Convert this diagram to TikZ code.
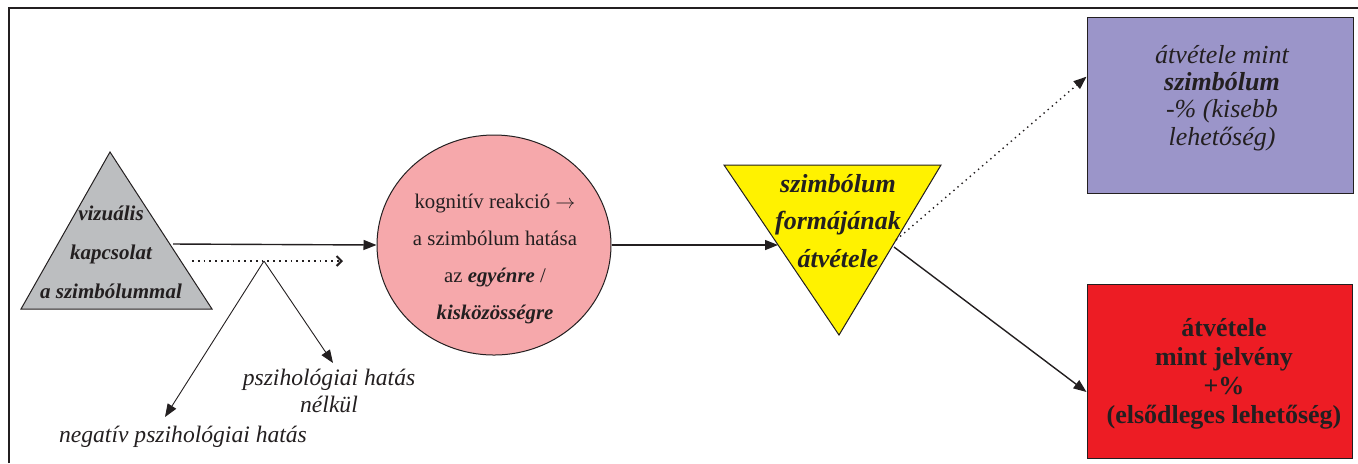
\documentclass[tikz,border=0pt]{standalone}
\usepackage{fontspec}
\setmainfont{Liberation Serif}
\usetikzlibrary{calc}
\usetikzlibrary{shapes.geometric}
\usetikzlibrary{arrows.meta}

\definecolor{vonal}{HTML}{231F20}
\definecolor{szurke}{HTML}{BCBEC0}
\definecolor{rozsa}{HTML}{F6A8AB}
\definecolor{sarga}{HTML}{FFF200}
\definecolor{lila}{HTML}{9B95C9}
\definecolor{piros}{HTML}{ED1C24}

\tikzset{
    alak/.style={draw=vonal, line width=0.5pt},
    nyil/.style={draw=vonal, line width=0.7pt, -{Triangle[length=6.5pt,width=5pt]}},
    vekony/.style={draw=vonal, line width=0.45pt, -{Triangle[length=6.5pt,width=5pt]}},
    felirat/.style={inner sep=0pt, text=vonal, align=center}
}

\begin{document}
\begin{tikzpicture}[x=0.5pt, y=-0.5pt]
    \useasboundingbox (0,0) rectangle (1358,463);
    % keret
    \draw[vonal, line width=0.8pt] (9,463) -- (9,8) -- (1358,8);

    % vizualis kapcsolat
    \draw[alak, fill=szurke] (110,152) -- (212,309) -- (21,309) -- cycle;
    \node[felirat, font=\fontsize{10.5}{19.5}\selectfont\bfseries\itshape] (vizualis) at (111,252) {vizuális\\kapcsolat\\a szimbólummal};
    \coordinate (kimenet) at (173,244);

    % pontozott nyil es elagazas
    \coordinate (pont-kezd) at (192,261);
    \coordinate (pont-veg) at (343,261);
    \coordinate (elag) at (264,261);
    \coordinate (semleges-vege) at (333,363);
    \coordinate (negativ-vege) at (165,417);
    \draw[vonal, line width=0.9pt, dash pattern=on 0.9pt off 2pt, -{Straight Barb[length=2.5pt,width=5pt,line width=1pt]}] (pont-kezd) -- (pont-veg);
    \draw[vekony] (elag) -- (semleges-vege);
    \draw[vekony] (elag) -- (negativ-vege);
    \node[felirat, font=\fontsize{11.8}{13.5}\selectfont\itshape] (semleges) at (329,391) {pszihológiai hatás\\nélkül};
    \node[felirat, font=\fontsize{11.8}{13.5}\selectfont\itshape] (negativ) at (183,437) {negatív pszihológiai hatás};

    % kognitiv reakcio
    \node[ellipse, alak, fill=rozsa, minimum width=117pt, minimum height=110pt] (reakcio) at (494,245) {};
    \node[felirat, font=\fontsize{10.4}{18.5}\selectfont] (reakcio-szoveg) at (495,259) {kognitív reakció $\rightarrow$\\a szimbólum hatása\\az \textbf{\textit{egyénre}} /\\\textbf{\textit{kisközösségre}}};
    \draw[nyil] (kimenet) -- (reakcio.west);

    % szimbolum formajanak atvetele
    \draw[alak, fill=sarga] (724,165) -- (941,165) -- (839,335) -- cycle;
    \node[felirat, font=\fontsize{13}{18.75}\selectfont\bfseries\itshape] (forma) at (838,221) {szimbólum\\formájának\\átvétele};
    \coordinate (forma-be) at (778,245);
    \coordinate (forma-ki1) at (896,240);
    \coordinate (forma-ki2) at (894,247);
    \draw[nyil] (reakcio.east) -- (forma-be);

    % kimenetek
    \node[alak, fill=lila, minimum width=133pt, minimum height=88pt] (szimbolum) at (1220,105) {};
    \node[felirat, font=\fontsize{13}{13.6}\selectfont\itshape] (szimbolum-szoveg) at (1222,98) {átvétele mint\\\textbf{szimbólum}\\-\% (kisebb\\lehetőség)};
    \node[alak, fill=piros, minimum width=132.5pt, minimum height=87pt] (jelveny) at (1219.5,371) {};
    \node[felirat, font=\fontsize{13}{14.6}\selectfont\bfseries] (jelveny-szoveg) at (1224,374) {átvétele\\mint jelvény\\+\%\\(elsődleges lehetőség)};
    \draw[nyil, dotted, line width=0.7pt] (forma-ki1) -- ($(szimbolum.north west)!0.34!(szimbolum.south west)$);
    \draw[nyil] (forma-ki2) -- ($(jelveny.north west)!0.62!(jelveny.south west)$);
\end{tikzpicture}
\end{document}
